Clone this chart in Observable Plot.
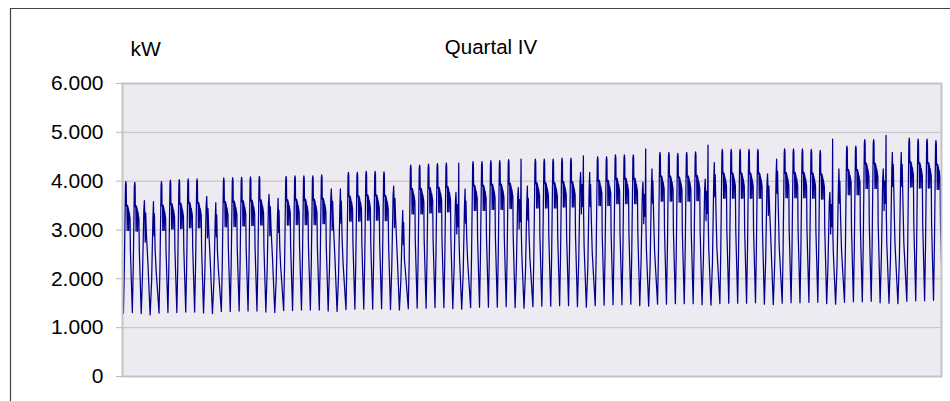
<!DOCTYPE html>
<html>
<head>
<meta charset="utf-8">
<script src="https://cdn.jsdelivr.net/npm/d3@7"></script>
<script src="https://cdn.jsdelivr.net/npm/@observablehq/plot@0.6"></script>
<style>
  body { margin: 0; background: #fff; }
  #chart { width: 950px; height: 401px; }
</style>
</head>
<body>
<div id="chart"></div>
<script>
// ---------- data ----------
const chartTitle = "Quartal IV";
const unitLabel = "kW";
const yTicks = [0, 1000, 2000, 3000, 4000, 5000, 6000];

// day type per day of the quarter: W = working day, S = Saturday-like, U = Sunday-like
const dayTypes = [
  "W","W","S","U",
  "W","W","W","W","W","S","U",
  "W","W","W","W","W","S","U",
  "W","W","W","W","W","S","U",
  "W","W","W","W","W","S","U",
  "W","W","W","W","W","S","U",
  "W","W","W","W","W","S","U",
  "W","W","W","W","W","S","U",
  "W","W","W","W","W","S","U",
  "W","W","W","W","W","S","U",
  "W","W","W","W","W","S","U",
  "W","W","W","W","W","S","U",
  "W","W","W","W","S","U","U",
  "W","W","W","W"
];

// daily peak load (kW)
const dayPeaks = [
  3990, 3975, 3600, 3580,
  3990, 4020, 4030, 4045, 4045, 3690, 3560,
  4065, 4070, 4080, 4090, 4100, 3730, 3650,
  4100, 4110, 4110, 4110, 4130, 3840, 3840,
  4180, 4180, 4200, 4200, 4190, 3900, 3400,
  4330, 4330, 4350, 4360, 4370, 3770, 3840,
  4400, 4400, 4420, 4420, 4440, 3870, 3900,
  4450, 4450, 4450, 4470, 4470, 4180, 4180,
  4500, 4500, 4540, 4540, 4540, 3980, 4250,
  4590, 4590, 4570, 4590, 4600, 4040, 4380,
  4650, 4650, 4650, 4650, 4650, 4150, 4450,
  4660, 4660, 4660, 4650, 4630, 3770, 4250,
  4720, 4720, 4850, 4850, 4250, 4590, 4590,
  4880, 4860, 4860, 4830
];

// daily night minimum (kW)
const dayLows = [
  1300, 1310, 1290, 1260,
  1300, 1310, 1310, 1320, 1320, 1300, 1290,
  1330, 1330, 1340, 1340, 1340, 1320, 1310,
  1350, 1350, 1360, 1360, 1360, 1340, 1330,
  1370, 1380, 1380, 1380, 1390, 1370, 1360,
  1390, 1400, 1400, 1410, 1410, 1390, 1380,
  1410, 1420, 1420, 1420, 1430, 1410, 1400,
  1430, 1440, 1440, 1450, 1450, 1430, 1420,
  1450, 1460, 1470, 1470, 1480, 1450, 1440,
  1480, 1480, 1490, 1490, 1490, 1470, 1460,
  1490, 1500, 1500, 1500, 1510, 1480, 1470,
  1500, 1510, 1510, 1520, 1520, 1490, 1480,
  1520, 1530, 1530, 1540, 1510, 1500, 1490,
  1540, 1550, 1550, 1560
];

// short evening spikes on some weekend days: [day index, kW]
const eveningSpikes = [[37, 4370], [44, 4450], [51, 4520], [58, 4660], [65, 4740], [79, 4860], [85, 4940]];

const startValue = 1480;  // first reading
const endValue = 2340;    // last reading

// ---------- build the series ----------
const spikeByDay = new Map(eveningSpikes);

function keyPoints(type, low, peak, spike) {
  const D = peak - low;
  if (type === "W") {
    return [[2.5, low], [5, low + 0.35 * D], [8, peak - 80], [9, peak], [10, peak - 60],
            [10.6, peak - 500], [12, peak - 520], [12.6, peak - 1000], [13.3, peak - 480],
            [15.8, peak - 560], [16.5, peak - 1000], [17.3, peak - 600], [20.3, peak - 750],
            [21.3, low + 0.48 * D]];
  }
  if (type === "S") {
    const p = [[2.5, low], [6, low + 0.35 * D], [9.5, peak - 200], [11, peak], [12.5, peak - 350],
               [13.2, peak - 850], [14.5, peak - 250], [16.5, peak - 700]];
    if (spike) p.push([17.5, peak - 400], [18.5, spike], [19.2, peak - 900]);
    p.push([20.5, low + 0.45 * D]);
    return p;
  }
  return [[2.5, low], [6.5, low + 0.3 * D], [10, peak - 350], [11.5, peak], [13, peak - 700],
          [14, peak - 250], [16, peak - 1000], [18.5, low + 0.4 * D]];
}

const nDays = dayPeaks.length;
const series = [{t: 0, v: startValue}];
for (let d = 0; d < nDays; d++) {
  for (const [h, v] of keyPoints(dayTypes[d], dayLows[d], dayPeaks[d], spikeByDay.get(d))) {
    series.push({t: d * 24 + h, v});
  }
}
series.push({t: nDays * 24, v: endValue});

const fmt = d => d === 0 ? "0" : d3.format(",")(d).replace(/,/g, ".");

const font = "'Liberation Sans', Arial, sans-serif";

const chart = Plot.plot({
  width: 950,
  height: 401,
  marginLeft: 122,
  marginRight: 9,
  marginTop: 83,
  marginBottom: 25,
  style: {fontFamily: font, fontSize: "21px", color: "#000", background: "#fff", overflow: "visible"},
  x: {domain: [0, nDays * 24], axis: null},
  y: {domain: [0, 6000], axis: null},
  marks: [
    Plot.frame({fill: "#EEEAF2", stroke: null}),
    Plot.gridY(yTicks.filter(t => t > 0 && t < 6000), {stroke: "#c0c0c0", strokeOpacity: 1, strokeWidth: 1}),
    Plot.axisY(yTicks, {tickSize: 6, tickPadding: 13, stroke: "#b8b8b8", fill: "#000", tickFormat: fmt, label: null, fontSize: 21}),
    Plot.line(series, {x: "t", y: "v", stroke: "#00008B", strokeWidth: 1.25}),
    Plot.frame({stroke: "#c4c4c4", strokeWidth: 2}),
    Plot.text([unitLabel], {frameAnchor: "top-left", textAnchor: "start", lineAnchor: "bottom", dx: 8, dy: -28, fontSize: 21, fill: "#000"}),
    Plot.text([chartTitle], {frameAnchor: "top", textAnchor: "middle", lineAnchor: "bottom", dx: -41, dy: -30, fontSize: 20.5, fill: "#000"})
  ]
});

d3.select(chart).append("path")
  .attr("d", "M10.5,401V8.5H950")
  .attr("fill", "none")
  .attr("stroke", "#444")
  .attr("stroke-width", 1.2);

document.getElementById("chart").appendChild(chart);
</script>
</body>
</html>
